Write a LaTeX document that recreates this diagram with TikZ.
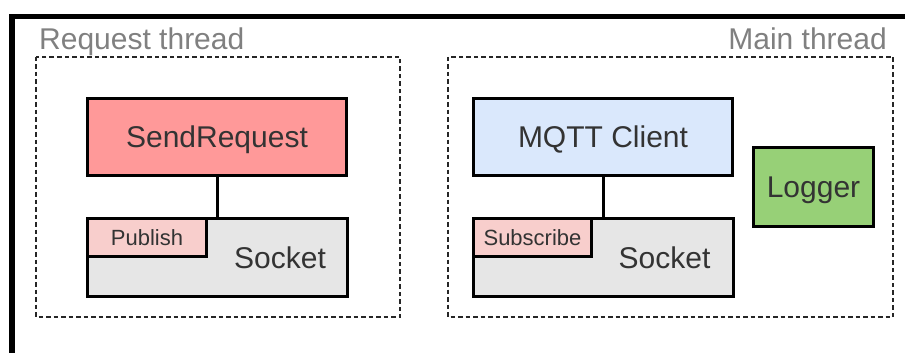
\documentclass[tikz,border=0pt]{standalone}
\usepackage{fontspec}
\setmainfont{Liberation Sans}
\definecolor{reqred}{HTML}{FF9999}
\definecolor{mqttblue}{HTML}{DAE8FC}
\definecolor{loggreen}{HTML}{97D077}
\definecolor{sockgray}{HTML}{E6E6E6}
\definecolor{portpink}{HTML}{F8CECC}
\definecolor{labelgray}{HTML}{808080}
\definecolor{textdark}{HTML}{333333}
\tikzset{
  blockbox/.style={draw=black, line width=3pt, inner sep=0pt, text=textdark,
    font=\fontsize{30}{34}\selectfont, text height=21.5pt, text depth=0pt},
  portbox/.style={blockbox, fill=portpink, font=\fontsize{22}{26}\selectfont,
    text height=15.8pt, text depth=0pt},
  plaintext/.style={inner sep=0pt, text=textdark, font=\fontsize{30}{34}\selectfont,
    text height=21.5pt, text depth=0pt},
  threadlabel/.style={inner sep=0pt, text=labelgray, font=\fontsize{30}{34}\selectfont},
  threadframe/.style={draw=black!85, line width=1.8pt, dash pattern=on 4.5pt off 3pt},
  link/.style={draw=black, line width=3pt},
}
\begin{document}
\begin{tikzpicture}[x=1pt,y=-1pt]
\useasboundingbox (0,0) rectangle (905,353);
\clip (0,0) rectangle (905,353);
\fill[white] (0,0) rectangle (905,353);

% outer window frame
\draw[line width=5.5pt] (12,370) -- (12,16.5) -- (920,16.5);

% thread regions
\draw[threadframe] (36,57) rectangle (400,317);
\draw[threadframe] (448,57) rectangle (893,317);
\node[threadlabel, anchor=base west] (reqlabel) at (39,50) {Request thread};
\node[threadlabel, anchor=base east] (mainlabel) at (887,50) {Main thread};

% request thread
\node[blockbox, fill=reqred, minimum width=259pt, minimum height=77pt] (send) at (217,137) {SendRequest};
\node[blockbox, fill=sockgray, minimum width=260pt, minimum height=78pt] (sockA) at (217.5,257.5) {};
\node[portbox, minimum width=119pt, minimum height=38pt] (publish) at (147,237.5) {Publish};
\node[plaintext] (sockAtext) at (280,257.5) {Socket};
\draw[link] (send.south) -- (send.south |- sockA.north);

% main thread
\node[blockbox, fill=mqttblue, minimum width=259pt, minimum height=77pt] (mqtt) at (603,137) {MQTT Client};
\node[blockbox, fill=sockgray, minimum width=260pt, minimum height=78pt] (sockB) at (603.5,257.5) {};
\node[portbox, minimum width=118pt, minimum height=38pt] (subscribe) at (532.5,237.5) {Subscribe};
\node[plaintext] (sockBtext) at (664.5,257.5) {Socket};
\draw[link] (mqtt.south) -- (mqtt.south |- sockB.north);

\node[blockbox, fill=loggreen, minimum width=120pt, minimum height=79pt] (logger) at (813.5,187) {Logger};
\end{tikzpicture}
\end{document}
